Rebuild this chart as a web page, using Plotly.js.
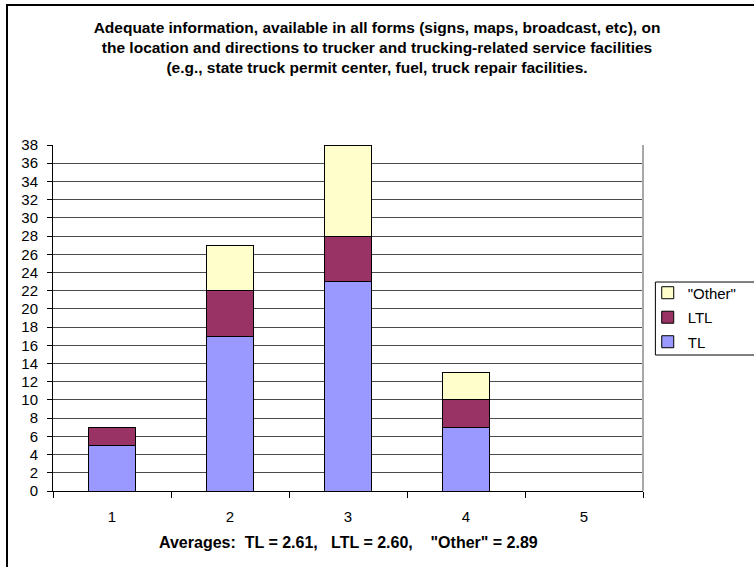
<!DOCTYPE html>
<html>
<head>
<meta charset="utf-8">
<script src="https://cdn.plot.ly/plotly-3.0.1.min.js"></script>
<style>
  body { margin: 0; padding: 0; background: #ffffff; overflow: hidden; }
  #wrap { position: relative; width: 754px; height: 567px; }
  #chart { position: absolute; left: 0; top: 0; width: 754px; height: 567px; }
  #frame { position: absolute; left: 6px; top: 4px; width: 800px; height: 620px;
           border: 2px solid #000; pointer-events: none; }
</style>
</head>
<body>
<div id="wrap">
  <div id="chart"></div>
  <div id="frame"></div>
</div>
<script>
const categories = ["1", "2", "3", "4", "5"];
const tlValues = [5, 17, 23, 7, 0];
const ltlValues = [2, 5, 5, 3, 0];
const otherValues = [0, 5, 10, 3, 0];
const seriesNames = ["TL", "LTL", "\"Other\""];
const titleLines = [
  "Adequate information, available in all forms (signs, maps, broadcast, etc), on",
  "the location and directions to trucker and trucking-related service facilities",
  "(e.g., state truck permit center, fuel, truck repair facilities."
];
const footnote = "Averages:\u00a0\u00a0TL = 2.61,\u00a0\u00a0\u00a0LTL = 2.60,\u00a0\u00a0\u00a0\u00a0\"Other\" = 2.89";

const lineStyle = { color: "#000000", width: 1 };
const traces = [
  { type: "bar", name: seriesNames[0], x: categories, y: tlValues,
    legendgroup: "g1", legendrank: 3,
    marker: { color: "#9999FF", line: lineStyle } },
  { type: "bar", name: seriesNames[1], x: categories, y: ltlValues,
    legendgroup: "g2", legendrank: 2,
    marker: { color: "#993366", line: lineStyle } },
  { type: "bar", name: seriesNames[2], x: categories, y: otherValues,
    legendgroup: "g3", legendrank: 1,
    marker: { color: "#FFFFCC", line: lineStyle } }
];

const yTicks = [];
for (let v = 0; v <= 38; v += 2) yTicks.push(v);

const layout = {
  width: 754, height: 567,
  paper_bgcolor: "rgba(0,0,0,0)",
  plot_bgcolor: "#ffffff",
  font: { family: "Arial, Liberation Sans, sans-serif", size: 15, color: "#000" },
  barmode: "stack",
  bargap: 0.6,
  margin: { l: 53, r: 84, t: 145, b: 76 },
  title: {
    text: "<b>" + titleLines.join("<br>") + "</b>",
    font: { size: 15.5, color: "#000" },
    x: 0.5, xref: "container", xanchor: "center",
    y: 0.942, yref: "container", yanchor: "top"
  },
  xaxis: {
    type: "category",
    tickson: "boundaries",
    ticks: "outside", ticklen: 6, tickcolor: "#000",
    showline: true, linecolor: "#000", linewidth: 1,
    showgrid: false,
    tickfont: { size: 15 },
    ticklabelstandoff: 12
  },
  yaxis: {
    range: [0, 38],
    tickvals: yTicks,
    ticks: "outside", ticklen: 5, tickcolor: "#000",
    showline: true, linecolor: "#000", linewidth: 1,
    showgrid: true, gridcolor: "#4a4a4a", gridwidth: 1,
    zeroline: false,
    tickfont: { size: 15 },
    ticklabelstandoff: 6
  },
  legend: {
    x: 1.008, xanchor: "left", y: 0.62, yanchor: "top",
    traceorder: "grouped",
    borderwidth: 0,
    bgcolor: "rgba(0,0,0,0)",
    font: { size: 15 },
    itemwidth: 30, tracegroupgap: 2
  },
  shapes: [
    { type: "line", xref: "paper", yref: "paper", x0: 1, x1: 1, y0: 0, y1: 1,
      line: { color: "#a8a8a8", width: 2 } },
    { type: "rect", xref: "paper", yref: "paper", x0: 1.021, x1: 1.25, y0: 0.393, y1: 0.604,
      fillcolor: "#ffffff", line: { color: "#000", width: 1 }, layer: "below" }
  ],
  annotations: [
    { text: "<b>" + footnote + "</b>", xref: "paper", yref: "paper",
      x: 0.5, y: 0, yshift: -51, xanchor: "center", yanchor: "middle",
      showarrow: false, font: { size: 16 } }
  ]
};

Plotly.newPlot("chart", traces, layout, { displayModeBar: false, staticPlot: true });
</script>
</body>
</html>
